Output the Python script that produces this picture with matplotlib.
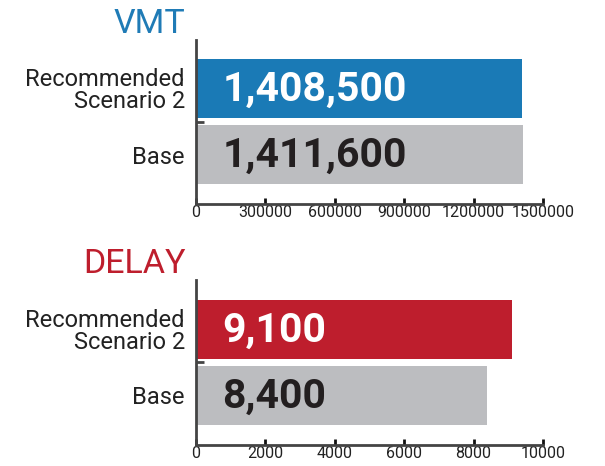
import numpy as np
import matplotlib.pyplot as plt

plt.rcParams['font.family'] = ['Roboto', 'DejaVu Sans']

categories = ['Base', 'Recommended\nScenario 2']
vmt_values = [1411600, 1408500]
vmt_labels = ['1,411,600', '1,408,500']
vmt_ticks = [0, 300000, 600000, 900000, 1200000, 1500000]
delay_values = [8400, 9100]
delay_labels = ['8,400', '9,100']
delay_ticks = [0, 2000, 4000, 6000, 8000, 10000]

blue = '#1a7ab6'
red = '#be1e2d'
gray = '#bcbdc0'
spine_col = '#444444'

fig = plt.figure(figsize=(6.05, 4.66), dpi=100)
ax1 = fig.add_axes([0.324, 0.5622, 0.5735, 0.3520])
ax2 = fig.add_axes([0.324, 0.0451, 0.5735, 0.3541])


def draw_panel(ax, title, values, labels, ticks, color, title_color):
    y = np.arange(len(values))
    ax.barh(y, values, height=0.89, color=[gray, color], zorder=2)
    ax.set_xlim(ticks[0], ticks[-1])
    ax.set_ylim(-0.75, 1.74)
    ax.set_xticks(ticks)
    ax.set_xticklabels([str(t) for t in ticks], fontsize=11.5, color='#222222')
    ax.set_yticks(y)
    ax.set_yticklabels(categories, fontsize=17, color='#222222', linespacing=0.95)
    ax.set_yticks([0.5], minor=True)
    ax.tick_params(axis='y', which='major', length=0, pad=8)
    ax.tick_params(axis='y', which='minor', direction='in', length=6, width=2, color=spine_col)
    ax.tick_params(axis='x', direction='in', length=4, width=2, color='#111111', pad=1)
    for s in ['top', 'right']:
        ax.spines[s].set_visible(False)
    for s in ['left', 'bottom']:
        ax.spines[s].set_color(spine_col)
        ax.spines[s].set_linewidth(2)
    txt_colors = ['#231f20', 'white']
    for i, (v, lab) in enumerate(zip(values, labels)):
        ax.annotate(lab, xy=(0, i), xytext=(19, -1), textcoords='offset points',
                    ha='left', va='center', fontsize=29.5, fontweight='bold',
                    color=txt_colors[i], zorder=3)
    ax.text(-0.03, 1.0, title, transform=ax.transAxes, ha='right', va='bottom',
            fontsize=24.5, color=title_color)


draw_panel(ax1, 'VMT', vmt_values, vmt_labels, vmt_ticks, blue, '#1f7bb6')
draw_panel(ax2, 'DELAY', delay_values, delay_labels, delay_ticks, red, red)

fig.savefig('out.png', dpi=100)
